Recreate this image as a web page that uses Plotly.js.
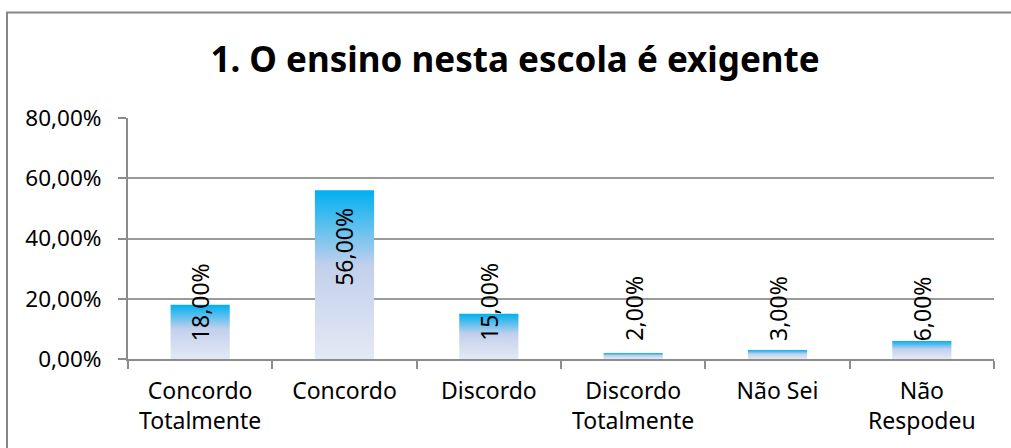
<!DOCTYPE html>
<html>
<head>
<meta charset="utf-8">
<script src="https://cdn.plot.ly/plotly-3.0.1.min.js"></script>
<style>
  html, body { margin: 0; padding: 0; background: #fff; }
  #chart { width: 1011px; height: 448px; }
</style>
</head>
<body>
<div id="chart"></div>
<script>
const chartTitle = "1. O ensino nesta escola é exigente";
const categories = ["Concordo<br>Totalmente", "Concordo", "Discordo", "Discordo<br>Totalmente", "Não Sei", "Não<br>Respodeu"];
const values = [0.18, 0.56, 0.15, 0.02, 0.03, 0.06];
const yTickVals = [0, 0.2, 0.4, 0.6, 0.8];

const FONT = "Noto Sans, Open Sans, sans-serif";
const fmt = v => (v * 100).toFixed(2).replace('.', ',') + '%';

const annotations = values.map((v, i) => {
  const big = v > 0.3;
  return {
    x: categories[i], y: big ? v : 0,
    xref: 'x', yref: 'y',
    text: fmt(v), textangle: -90, showarrow: false,
    yanchor: big ? 'top' : 'bottom', xanchor: 'center',
    yshift: big ? -16 : 16,
    font: { family: FONT, size: 23, color: '#000' }
  };
});

const trace = {
  type: 'bar', x: categories, y: values,
  marker: { color: '#8fc6ec', line: { width: 0 } },
  hoverinfo: 'none'
};

const layout = {
  width: 1011, height: 448,
  margin: { l: 128, r: 17, t: 118, b: 89 },
  paper_bgcolor: '#fff', plot_bgcolor: '#fff',
  separators: ',.',
  showlegend: false,
  bargap: 0.59,
  title: {
    text: '<b>' + chartTitle + '</b>',
    font: { family: FONT, size: 35, color: '#000' },
    x: 515 / 1011, xref: 'container', xanchor: 'center',
    y: 1 - 60 / 448, yref: 'container', yanchor: 'middle'
  },
  xaxis: {
    type: 'category',
    showline: true, linecolor: '#8c8c8c', linewidth: 2,
    ticks: 'outside', ticklen: 8, tickcolor: '#8c8c8c', tickwidth: 2,
    tickson: 'boundaries',
    showgrid: false,
    tickfont: { family: FONT, size: 23, color: '#000' },
    ticklabelstandoff: 10
  },
  yaxis: {
    range: [0, 0.8], tickvals: yTickVals, tickformat: '.2%',
    showline: true, linecolor: '#8c8c8c', linewidth: 2,
    ticks: 'outside', ticklen: 8, tickcolor: '#8c8c8c', tickwidth: 2,
    showgrid: true, gridcolor: '#9a9a9a', gridwidth: 2,
    zeroline: false,
    tickfont: { family: FONT, size: 22.5, color: '#000' },
    ticklabelstandoff: 12
  },
  annotations: annotations,
  shapes: [{
    type: 'rect', xref: 'paper', yref: 'paper',
    x0: (7 - 128) / 866, x1: 1.2, y0: -0.6, y1: (359 - 12.5) / 241,
    line: { color: '#868686', width: 2 }, fillcolor: 'rgba(0,0,0,0)', layer: 'below'
  }]
};

Plotly.newPlot('chart', [trace], layout, { staticPlot: true, displayModeBar: false }).then(gd => {
  const svg = gd.querySelector('svg.main-svg');
  const ns = 'http://www.w3.org/2000/svg';
  let defs = svg.querySelector('defs');
  if (!defs) { defs = document.createElementNS(ns, 'defs'); svg.insertBefore(defs, svg.firstChild); }
  const grad = document.createElementNS(ns, 'linearGradient');
  grad.setAttribute('id', 'barGrad');
  grad.setAttribute('x1', '0'); grad.setAttribute('y1', '0');
  grad.setAttribute('x2', '0'); grad.setAttribute('y2', '1');
  [['0%', '#00b0f0'], ['45%', '#c3d0ec'], ['100%', '#e3e9f5']].forEach(([o, c]) => {
    const s = document.createElementNS(ns, 'stop');
    s.setAttribute('offset', o); s.setAttribute('stop-color', c);
    grad.appendChild(s);
  });
  defs.appendChild(grad);
  gd.querySelectorAll('.trace.bars .point path').forEach(p => {
    p.style.fill = 'url(#barGrad)';
  });
});
</script>
</body>
</html>
